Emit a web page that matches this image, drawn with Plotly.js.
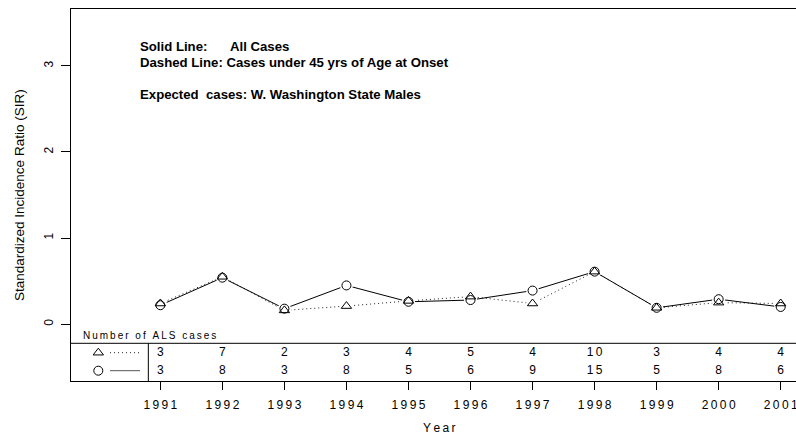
<!DOCTYPE html>
<html>
<head>
<meta charset="utf-8">
<script src="https://cdn.plot.ly/plotly-3.0.1.min.js"></script>
<style>html,body{margin:0;padding:0;overflow:hidden;background:#fff;}#chart{width:830px;height:435px;}</style>
</head>
<body>
<div id="chart"></div>
<script>
// ---- data ----
const years = [1991,1992,1993,1994,1995,1996,1997,1998,1999,2000,2001];
const sirAll = [0.22,0.54,0.18,0.45,0.26,0.28,0.39,0.61,0.19,0.29,0.20];
const sirUnder45 = [0.24,0.55,0.16,0.21,0.27,0.32,0.24,0.61,0.19,0.25,0.24];
const casesUnder45 = [3,7,2,3,4,5,4,10,3,4,4];
const casesAll = [3,8,3,8,5,6,9,15,5,8,6];
const yTicks = [0,1,2,3];

// ---- geometry helpers ----
const X0 = 1989.56, X1 = 2001.44, Y0 = -0.66, Y1 = 3.66;
const W = 830, H = 435, L = 71, R = 807.6, T = 9, B = 381;
const px2x = p => X0 + (p - L) / (R - L) * (X1 - X0);
const py2y = p => Y1 - (p - T) / (B - T) * (Y1 - Y0);
const px2p = p => (p - L) / (R - L);
const py2p = p => (B - p) / (B - T);
const sp = s => s.split('').join('\u2009');
const font = 'Liberation Sans, Arial, Helvetica, sans-serif';

const row1 = py2y(352.7), row2 = py2y(370.7), tableLine = py2y(343.3);
const keyX = px2x(98.3), keyL0 = px2x(110), keyL1 = px2x(140);

const traces = [
  {x: years, y: sirUnder45, mode: 'lines', line: {color: '#222', width: 1, dash: '1px,3px'}, hoverinfo: 'skip'},
  {x: years, y: sirAll, mode: 'lines', line: {color: '#000', width: 1}, hoverinfo: 'skip'},
  {x: years, y: sirUnder45, mode: 'markers', marker: {symbol: 'circle', size: 13, color: '#fff'}, hoverinfo: 'skip'},
  {x: years, y: sirAll, mode: 'markers', marker: {symbol: 'circle', size: 13, color: '#fff'}, hoverinfo: 'skip'},
  {x: years, y: sirUnder45, mode: 'markers', marker: {symbol: 'triangle-up-open', size: 9, color: '#000', line: {width: 1}}},
  {x: years, y: sirAll, mode: 'markers', marker: {symbol: 'circle-open', size: 9, color: '#000', line: {width: 1}}},
  // table numbers
  {x: years, y: years.map(() => row1), mode: 'text', text: casesUnder45.map(v => sp(String(v))), textfont: {family: font, size: 12, color: '#000'}, hoverinfo: 'skip'},
  {x: years, y: years.map(() => row2), mode: 'text', text: casesAll.map(v => sp(String(v))), textfont: {family: font, size: 12, color: '#000'}, hoverinfo: 'skip'},
  // table key
  {x: [keyX], y: [row1], mode: 'markers', marker: {symbol: 'triangle-up-open', size: 9, color: '#000', line: {width: 1}}, hoverinfo: 'skip'},
  {x: [keyX], y: [row2], mode: 'markers', marker: {symbol: 'circle-open', size: 9, color: '#000', line: {width: 1}}, hoverinfo: 'skip'},
  {x: [keyL0, keyL1], y: [row1, row1], mode: 'lines', line: {color: '#222', width: 1, dash: '1px,3px'}, hoverinfo: 'skip'},
  {x: [keyL0, keyL1], y: [row2, row2], mode: 'lines', line: {color: '#555', width: 1}, hoverinfo: 'skip'}
];

const ann = (px, py, text, opts) => Object.assign({
  x: px2p(px), y: py2p(py), xref: 'paper', yref: 'paper', text: text, showarrow: false,
  xanchor: 'left', yanchor: 'middle', font: {family: font, size: 13.2, color: '#000'}
}, opts || {});

const layout = {
  width: W, height: H,
  margin: {l: L, r: W - R, t: T, b: H - B},
  paper_bgcolor: '#fff', plot_bgcolor: '#fff',
  showlegend: false,
  font: {family: font, color: '#000'},
  xaxis: {
    range: [X0, X1], tickvals: years, ticktext: years.map(y => sp(String(y))),
    ticks: 'outside', ticklen: 8, tickwidth: 1, tickcolor: '#000', ticklabelstandoff: 5,
    showline: true, mirror: true, linecolor: '#000', linewidth: 1,
    showgrid: false, zeroline: false, tickfont: {family: font, size: 12, color: '#000'}
  },
  yaxis: {
    range: [Y0, Y1], tickvals: yTicks, ticktext: yTicks.map(String), tickangle: -90,
    ticks: 'outside', ticklen: 9, tickwidth: 1, tickcolor: '#000', ticklabelstandoff: 3,
    showline: true, mirror: true, linecolor: '#000', linewidth: 1,
    showgrid: false, zeroline: false, tickfont: {family: font, size: 12, color: '#000'}
  },
  shapes: [
    {type: 'line', xref: 'paper', yref: 'y', x0: 0, x1: 1, y0: tableLine, y1: tableLine, line: {color: '#000', width: 1}},
    {type: 'line', xref: 'x', yref: 'y', x0: px2x(148.3), x1: px2x(148.3), y0: Y0, y1: tableLine, line: {color: '#000', width: 1}}
  ],
  annotations: [
    ann(138, 46.7, '<b>Solid Line:</b>'),
    ann(228.3, 46.7, '<b>All Cases</b>'),
    ann(138, 62.7, '<b>Dashed Line: Cases under 45 yrs of Age at Onset</b>'),
    ann(138, 94, '<b>Expected  cases: W. Washington State Males</b>'),
    ann(81, 335.7, sp('Number of ALS cases'), {font: {family: font, size: 10, color: '#000'}}),
    ann(439, 427.7, sp('Year'), {xanchor: 'center', font: {family: font, size: 12, color: '#000'}}),
    ann(19, 195, 'Standardized Incidence Ratio (SIR)', {xanchor: 'center', textangle: -90, font: {family: font, size: 13.5, color: '#000'}})
  ]
};

Plotly.newPlot('chart', traces, layout, {displayModeBar: false, staticPlot: true});
</script>
</body>
</html>
